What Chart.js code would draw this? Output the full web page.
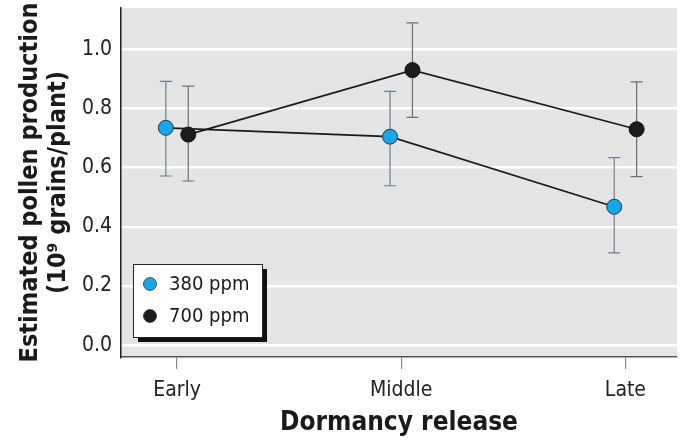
<!DOCTYPE html>
<html>
<head>
<meta charset="utf-8">
<script src="https://cdn.jsdelivr.net/npm/chart.js@4/dist/chart.umd.min.js"></script>
<style>
  html, body { margin: 0; padding: 0; background: #fff; }
  #wrap { width: 680px; height: 447px; }
</style>
</head>
<body>
<div id="wrap"><canvas id="c" width="680" height="447"></canvas></div>
<script>
// categories and values
const categories = ["Early", "Middle", "Late"];
const yTicks = [0.0, 0.2, 0.4, 0.6, 0.8, 1.0];

const low = { label: "380 ppm", mean: [0.735, 0.705, 0.468], lo: [0.572, 0.539, 0.312], hi: [0.892, 0.858, 0.634] };
const high = { label: "700 ppm", mean: [0.712, 0.930, 0.730], lo: [0.555, 0.770, 0.570], hi: [0.876, 1.090, 0.890] };

const offset = 0.05; // small dodge so the two groups don't overlap

const FONT = "'Liberation Sans Narrow', 'DejaVu Sans Condensed', 'Roboto Condensed', sans-serif";

function pts(s, dx) {
    return s.mean.map((v, i) => ({ x: i + dx, y: v, lo: s.lo[i], hi: s.hi[i] }));
}

// gray plot background
const bgPlugin = {
    id: "bg",
    beforeDraw(chart) {
        const a = chart.chartArea, ctx = chart.ctx;
        ctx.save();
        ctx.fillStyle = "#e5e5e5";
        ctx.fillRect(a.left, a.top, a.right - a.left, a.bottom - a.top);
        ctx.restore();
    }
};

// error bars under the points
const errPlugin = {
    id: "err",
    beforeDatasetsDraw(chart) {
        const ctx = chart.ctx, xs = chart.scales.x, ys = chart.scales.y;
        ctx.save();
        chart.data.datasets.forEach(ds => {
            ctx.strokeStyle = ds.errColor;
            ctx.lineWidth = 1.2;
            ds.data.forEach(p => {
                const x = xs.getPixelForValue(p.x);
                const y1 = ys.getPixelForValue(p.lo), y2 = ys.getPixelForValue(p.hi);
                ctx.beginPath();
                ctx.moveTo(x, y1); ctx.lineTo(x, y2);
                ctx.moveTo(x - 6, y1); ctx.lineTo(x + 6, y1);
                ctx.moveTo(x - 6, y2); ctx.lineTo(x + 6, y2);
                ctx.stroke();
            });
        });
        ctx.restore();
    }
};

// boxed legend with drop shadow
const legendPlugin = {
    id: "boxLegend",
    afterDraw(chart) {
        const a = chart.chartArea, ctx = chart.ctx;
        const bx = a.left + 12, by = a.bottom - 93, bw = 129, bh = 73;
        ctx.save();
        ctx.fillStyle = "#111";
        ctx.fillRect(bx + 5, by + 5, bw, bh);
        ctx.fillStyle = "#fff";
        ctx.fillRect(bx, by, bw, bh);
        ctx.strokeStyle = "#222";
        ctx.lineWidth = 1;
        ctx.strokeRect(bx + 0.5, by + 0.5, bw, bh);
        ctx.font = "20px " + FONT;
        ctx.textBaseline = "middle";
        chart.data.datasets.forEach((ds, i) => {
            const cy = by + 20 + i * 32;
            ctx.beginPath();
            ctx.arc(bx + 17, cy, 6.5, 0, Math.PI * 2);
            ctx.fillStyle = ds.pointBackgroundColor;
            ctx.fill();
            ctx.strokeStyle = "#333";
            ctx.lineWidth = 0.8;
            ctx.stroke();
            ctx.fillStyle = "#1a1a1a";
            ctx.fillText(ds.label, bx + 36, cy + 1);
        });
        ctx.restore();
    }
};

new Chart(document.getElementById("c"), {
    type: "line",
    data: {
        datasets: [
            {
                label: low.label,
                data: pts(low, -offset),
                borderColor: "#1a1a1a",
                borderWidth: 1.7,
                pointBackgroundColor: "#1aa5e6",
                pointBorderColor: "#2a3a44",
                pointBorderWidth: 1,
                pointRadius: 7.5,
                errColor: "#6d7f8a"
            },
            {
                label: high.label,
                data: pts(high, offset),
                borderColor: "#1a1a1a",
                borderWidth: 1.7,
                pointBackgroundColor: "#1c1c1c",
                pointBorderColor: "#111",
                pointBorderWidth: 1,
                pointRadius: 7.5,
                errColor: "#6e6e6e"
            }
        ]
    },
    options: {
        responsive: false,
        animation: false,
        clip: false,
        layout: { autoPadding: false, padding: { top: 8, right: 3, left: 0, bottom: 0 } },
        plugins: { legend: { display: false }, tooltip: { enabled: false } },
        scales: {
            x: {
                type: "linear",
                min: -0.25,
                max: 2.23,
                afterBuildTicks: s => { s.ticks = categories.map((c, i) => ({ value: i })); },
                afterFit: s => { s.height = 90; s.paddingLeft = 0; s.paddingRight = 0; },
                ticks: {
                    callback: v => categories[v],
                    color: "#222",
                    font: { family: FONT, size: 21 },
                    padding: 9
                },
                grid: { drawOnChartArea: false, drawTicks: true, tickLength: 12, color: "#8a8a8a", lineWidth: 1.2 },
                border: { display: true, color: "#555", width: 1.5 },
                title: {
                    display: true,
                    text: "Dormancy release",
                    color: "#1a1a1a",
                    font: { family: FONT, size: 26, weight: "bold", lineHeight: 1.1 },
                    padding: { top: 0, bottom: 9 }
                }
            },
            y: {
                min: -0.04,
                max: 1.14,
                afterBuildTicks: s => { s.ticks = yTicks.map(v => ({ value: v })); },
                afterFit: s => { s.width = 121; s.paddingTop = 0; s.paddingBottom = 0; },
                ticks: {
                    callback: v => v.toFixed(1),
                    color: "#222",
                    font: { family: FONT, size: 21 },
                    padding: 9
                },
                grid: { color: "#ffffff", lineWidth: 2.5, drawTicks: false },
                border: { display: true, color: "#222", width: 1.5 },
                title: {
                    display: true,
                    text: ["Estimated pollen production", "(10\u2079 grains/plant)"],
                    color: "#1a1a1a",
                    font: { family: FONT, size: 25, weight: "bold", lineHeight: 1.12 },
                    padding: { top: 16, bottom: 0 }
                }
            }
        }
    },
    plugins: [bgPlugin, errPlugin, legendPlugin]
});
</script>
</body>
</html>
